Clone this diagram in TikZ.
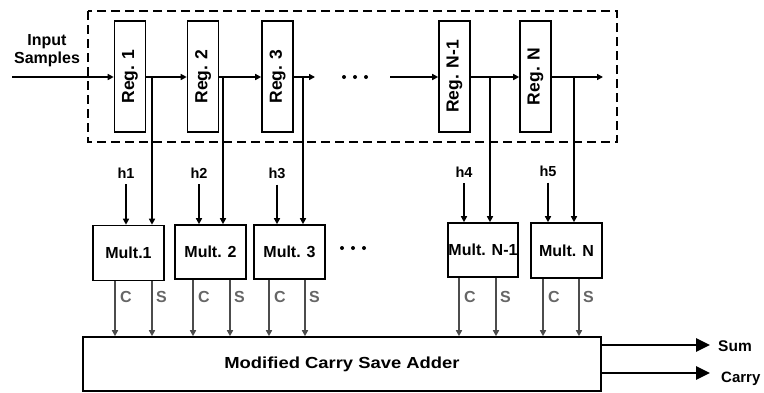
\documentclass[tikz,border=0pt]{standalone}
\usepackage{fontspec}
\setmainfont{Liberation Sans}
\usetikzlibrary{arrows.meta,calc}
\begin{document}
\begin{tikzpicture}[x=1pt,y=-1pt,
  every node/.style={font=\bfseries\fontsize{16}{19}\selectfont},
  regbox/.style={draw,line width=1.6pt,minimum width=31pt,minimum height=111pt,inner sep=0pt},
  multbox/.style={draw,line width=1.6pt,minimum width=71pt,minimum height=55pt,inner sep=0pt},
  arr/.style={line width=1.7pt,-{Triangle[length=6pt,width=6pt]}},
  csarr/.style={line width=1.8pt,draw=black!70,-{Triangle[length=6pt,width=6pt]}},
  bigarr/.style={line width=2.8pt,-{Triangle[length=14pt,width=13pt]}},
  cslabel/.style={text=black!60,font=\bfseries\fontsize{16}{19}\selectfont},
  hlabel/.style={font=\bfseries\fontsize{14.5}{17}\selectfont,inner sep=1pt},
  dot/.style={circle,fill=black,inner sep=0pt,minimum size=4pt}]
\useasboundingbox (0,0) rectangle (764,392);
% dashed register box
\draw[line width=1.6pt,dash pattern=on 9pt off 5pt] (88,11) rectangle (617,142);
% input label
\node[align=center,inner sep=0pt] (inlbl) at (47,51) {Input\\[-1pt]Samples};
% registers
\node[regbox] (r1) at (130,76.5) {\rotatebox{90}{\fontsize{17.5}{20}\selectfont Reg. 1}};
\node[regbox] (r2) at (203,76.5) {\rotatebox{90}{\fontsize{17.5}{20}\selectfont Reg. 2}};
\node[regbox] (r3) at (277.5,76.5) {\rotatebox{90}{\fontsize{17.5}{20}\selectfont Reg. 3}};
\node[regbox] (r4) at (454.5,76.5) {\rotatebox{90}{\fontsize{17.5}{20}\selectfont Reg. N-1}};
\node[regbox] (r5) at (535.5,76.5) {\rotatebox{90}{\fontsize{17.5}{20}\selectfont Reg. N}};
% coordinates on the signal line
\coordinate (in) at (12,77);
\coordinate (e3) at (315,77);
\coordinate (s4) at (390,77);
\coordinate (e5) at (603,77);
\coordinate (t1) at (152,77);
\coordinate (t2) at (223,77);
\coordinate (t3) at (303,77);
\coordinate (t4) at (490,77);
\coordinate (t5) at (574,77);
% dots
\node[dot] (d1) at (344,77) {};
\node[dot] (d2) at (355,77) {};
\node[dot] (d3) at (366,77) {};
% signal line
\draw[arr] (in) -- (r1.west |- in);
\draw[arr] (r1.east |- in) -- (r2.west |- in);
\draw[arr] (r2.east |- in) -- (r3.west |- in);
\draw[arr] (r3.east |- in) -- (e3);
\draw[arr] (s4) -- (r4.west |- in);
\draw[arr] (r4.east |- in) -- (r5.west |- in);
\draw[arr] (r5.east |- in) -- (e5);
% multipliers
\node[multbox] (m1) at (128.5,253) {Mult.1};
\node[multbox,minimum height=54pt] (m2) at (210.5,252) {Mult. 2};
\node[multbox,minimum height=54pt] (m3) at (289.5,252) {Mult. 3};
\node[multbox,minimum width=70pt,minimum height=54pt] (m4) at (483,250) {Mult. N-1};
\node[multbox] (m5) at (566.5,250.5) {Mult. N};
\node[dot] (md1) at (342,248) {};
\node[dot] (md2) at (353,248) {};
\node[dot] (md3) at (364,248) {};
% coefficients
\node[hlabel] (h1) at (126,173) {h1};
\node[hlabel] (h2) at (199,173) {h2};
\node[hlabel] (h3) at (277,173) {h3};
\node[hlabel] (h4) at (464,172) {h4};
\node[hlabel] (h5) at (548,171) {h5};
\draw[arr,shorten <=5pt] (h1.south) -- (h1.south |- m1.north);
\draw[arr,shorten <=5pt] (h2.south) -- (h2.south |- m2.north);
\draw[arr,shorten <=5pt] (h3.south) -- (h3.south |- m3.north);
\draw[arr,shorten <=5pt] (h4.south) -- (h4.south |- m4.north);
\draw[arr,shorten <=5pt] (h5.south) -- (h5.south |- m5.north);
% taps
\draw[arr] (t1) -- (t1 |- m1.north);
\draw[arr] (t2) -- (t2 |- m2.north);
\draw[arr] (t3) -- (t3 |- m3.north);
\draw[arr] (t4) -- (t4 |- m4.north);
\draw[arr] (t5) -- (t5 |- m5.north);
% adder
\node[draw,line width=1.6pt,minimum width=518pt,minimum height=54pt,inner sep=0pt] (add) at (342,364)
  {\scalebox{1.15}[1]{Modified Carry Save Adder}};
% carry/sum outputs
\foreach \m/\cx/\sx in {m1/115/152, m2/193/230, m3/269/305, m4/459/496, m5/543/579}{
  \draw[csarr] (\m.south -| \cx,0) -- (add.north -| \cx,0);
  \draw[csarr] (\m.south -| \sx,0) -- (add.north -| \sx,0);
  \node[cslabel,anchor=west,inner sep=0pt] at (\cx+5,297) {C};
  \node[cslabel,anchor=west,inner sep=0pt] at (\sx+4,297) {S};
}
% results
\coordinate (sumend) at (710,345);
\coordinate (carend) at (710,373);
\draw[bigarr] (add.east |- sumend) -- (sumend);
\draw[bigarr] (add.east |- carend) -- (carend);
\node[anchor=west,inner sep=0pt,font=\bfseries\fontsize{15.5}{18}\selectfont] (sum) at (718,346) {Sum};
\node[anchor=west,inner sep=0pt,font=\bfseries\fontsize{15}{18}\selectfont] (car) at (721,379) {Carry};
\end{tikzpicture}
\end{document}
